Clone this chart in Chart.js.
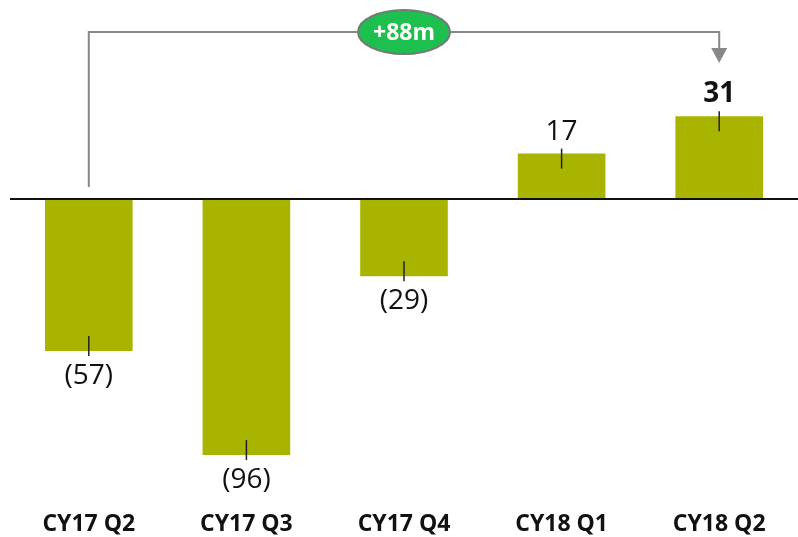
<!DOCTYPE html>
<html>
<head>
<meta charset="utf-8">
<script src="https://cdn.jsdelivr.net/npm/chart.js@4"></script>
<style>
  html, body { margin: 0; padding: 0; background: #fff; }
  #wrap { width: 798px; height: 537px; position: relative; }
</style>
</head>
<body>
<div id="wrap"><canvas id="ebitdaChart"></canvas></div>
<script>
// ---- Data ----
const quarters = ['CY17 Q2', 'CY17 Q3', 'CY17 Q4', 'CY18 Q1', 'CY18 Q2'];
const values = [-57, -96, -29, 17, 31];
const boldLabel = [false, false, false, false, true];

const BAR_COLOR = '#a9b400';
const FONT = "'Open Sans', 'Noto Sans', sans-serif";

// value labels: negatives in brackets
const fmt = (v) => (v < 0 ? `(${Math.abs(v)})` : `${v}`);

// ---- Overlay: zero line, end ticks, value labels and the change bracket ----
const overlay = {
  id: 'overlay',
  afterDatasetsDraw(chart) {
    const { ctx, chartArea, scales } = chart;
    const y0 = scales.y.getPixelForValue(0);
    const bars = chart.getDatasetMeta(0).data;

    ctx.save();

    // zero line
    ctx.strokeStyle = '#111';
    ctx.lineWidth = 2;
    ctx.beginPath();
    ctx.moveTo(chartArea.left, y0);
    ctx.lineTo(chartArea.right, y0);
    ctx.stroke();

    bars.forEach((bar, i) => {
      const v = values[i];
      const dir = v < 0 ? 1 : -1; // outward direction on screen

      // little tick across the bar end
      ctx.strokeStyle = '#222';
      ctx.lineWidth = 1.5;
      ctx.beginPath();
      ctx.moveTo(bar.x, bar.y - dir * 15);
      ctx.lineTo(bar.x, bar.y + dir * 5);
      ctx.stroke();

      ctx.fillStyle = '#111';
      ctx.font = `${boldLabel[i] ? 'bold ' : ''}28px ${FONT}`;
      ctx.textAlign = 'center';
      if (v < 0) {
        ctx.textBaseline = 'top';
        ctx.fillText(fmt(v), bar.x, bar.y + 11);
      } else {
        ctx.textBaseline = 'alphabetic';
        ctx.fillText(fmt(v), bar.x, bar.y - 14);
      }
    });

    // bracket from first to last quarter
    const xa = bars[0].x;
    const xb = bars[bars.length - 1].x;
    const yTop = 32;
    ctx.strokeStyle = '#888';
    ctx.lineWidth = 2;
    ctx.beginPath();
    ctx.moveTo(xa, y0 - 12);
    ctx.lineTo(xa, yTop);
    ctx.lineTo(xb, yTop);
    ctx.lineTo(xb, 49);
    ctx.stroke();
    ctx.fillStyle = '#888';
    ctx.beginPath();
    ctx.moveTo(xb - 8, 48);
    ctx.lineTo(xb + 8, 48);
    ctx.lineTo(xb, 63);
    ctx.closePath();
    ctx.fill();

    // change pill
    const diff = values[values.length - 1] - values[0];
    const px = (xa + xb) / 2;
    ctx.fillStyle = '#1dbf4f';
    ctx.strokeStyle = '#777';
    ctx.lineWidth = 2;
    ctx.beginPath();
    ctx.ellipse(px, 32, 46, 22, 0, 0, Math.PI * 2);
    ctx.fill();
    ctx.stroke();
    ctx.fillStyle = '#fff';
    ctx.font = `bold 23px ${FONT}`;
    ctx.textAlign = 'center';
    ctx.textBaseline = 'middle';
    ctx.fillText(`+${diff}m`, px, 33);

    ctx.restore();
  },
};

new Chart(document.getElementById('ebitdaChart').getContext('2d'), {
  type: 'bar',
  data: {
    labels: quarters,
    datasets: [
      {
        data: values,
        backgroundColor: BAR_COLOR,
        borderWidth: 0,
        categoryPercentage: 1,
        barPercentage: 0.556,
      },
    ],
  },
  options: {
    responsive: true,
    maintainAspectRatio: false,
    animation: false,
    layout: { padding: { left: 10, right: -3, top: 0, bottom: 0 } },
    plugins: {
      legend: { display: false },
      tooltip: { enabled: false },
    },
    scales: {
      x: {
        grid: { display: false, drawTicks: false, tickLength: 0 },
        border: { display: false },
        ticks: {
          color: '#111',
          padding: 1,
          font: { family: FONT, size: 23, weight: 'bold', lineHeight: 1 },
        },
      },
      y: {
        display: false,
        min: -117.4,
        max: 74.6,
      },
    },
  },
  plugins: [overlay],
});
</script>
</body>
</html>
